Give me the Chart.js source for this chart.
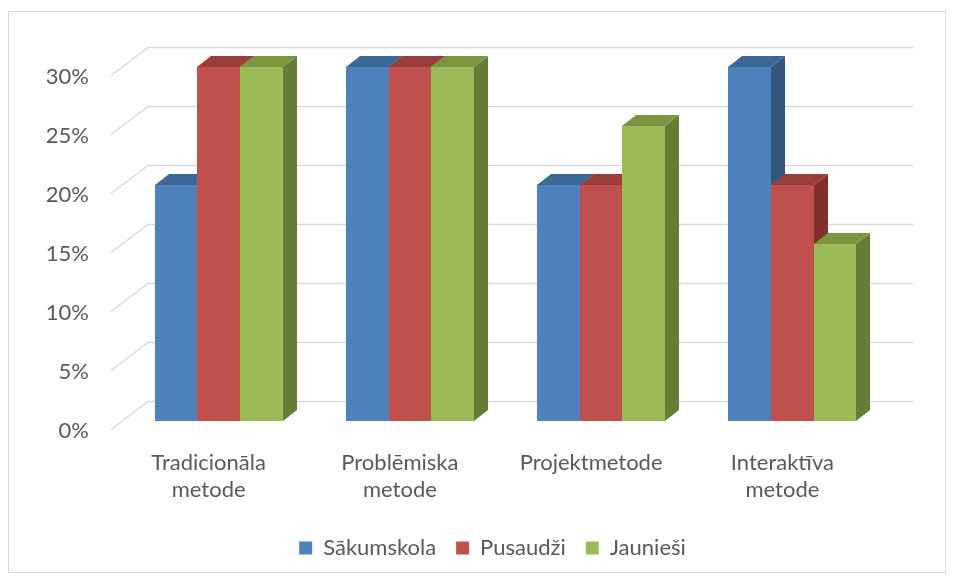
<!DOCTYPE html>
<html>
<head>
<meta charset="utf-8">
<script src="https://cdn.jsdelivr.net/npm/chart.js@4.4.0/dist/chart.umd.min.js"></script>
<style>
  html, body { margin: 0; padding: 0; background: #fff; }
  #wrap { position: relative; width: 953px; height: 580px; }
  #marco { position: absolute; left: 8px; top: 11px; width: 936px; height: 560px; border: 1px solid #d9d9d9; }
  canvas { position: absolute; left: 0; top: 0; }
</style>
</head>
<body>
<div id="wrap">
  <div id="marco"></div>
  <canvas id="grafico" width="953" height="580"></canvas>
</div>
<script>
// Datos del gráfico
const categorias = [['Tradicionāla', 'metode'], ['Problēmiska', 'metode'], 'Projektmetode', ['Interaktīva', 'metode']];
const series = ['Sākumskola', 'Pusaudži', 'Jaunieši'];
const sakumskola = [20, 30, 20, 30];
const pusaudzi = [30, 30, 20, 20];
const jaunesi = [30, 30, 25, 15];
const ejeYMax = 30;
const ejeYPaso = 5;

// Colores: frente, tapa, lado
const colores = [
  ['#4F81BD', '#3E6898', '#34577F'],
  ['#C0504D', '#9A3D3B', '#82302E'],
  ['#9BBB59', '#7B9541', '#667D35']
];

const TEXTO = '#595959';
const FUENTE = { family: 'Lato', size: 22, lineHeight: 1.25 };
const DX = 14, DY = -11;   // profundidad de las barras

// Plugin que dibuja la cuadrícula en perspectiva y las barras 3D
const barras3d = {
  id: 'barras3d',
  afterLayout(chart) {
    // que las etiquetas del eje Y no queden recortadas
    chart.scales.y.left = 0;
  },
  beforeDatasetsDraw(chart) {
    const ctx = chart.ctx;
    const area = chart.chartArea;
    const y = chart.scales.y;
    ctx.save();
    ctx.strokeStyle = '#d9d9d9';
    ctx.lineWidth = 1.5;
    y.ticks.forEach(t => {
      const py = y.getPixelForValue(t.value);
      ctx.beginPath();
      ctx.moveTo(area.left - 12, py + 8.5);
      ctx.lineTo(area.left + 25, py - 19.5);
      ctx.lineTo(area.right + 25, py - 19.5);
      ctx.stroke();
    });
    for (let i = 0; i < chart.data.labels.length; i++) {
      chart.data.datasets.forEach((ds, d) => {
        const bar = chart.getDatasetMeta(d).data[i];
        const izq = Math.round(bar.x - bar.width / 2);
        const der = Math.round(bar.x + bar.width / 2);
        const arriba = Math.round(bar.y);
        const base = Math.round(bar.base);
        // lado
        ctx.fillStyle = ds.colorLado;
        ctx.beginPath();
        ctx.moveTo(der, arriba);
        ctx.lineTo(der + DX, arriba + DY);
        ctx.lineTo(der + DX, base + DY);
        ctx.lineTo(der, base);
        ctx.closePath();
        ctx.fill();
        // tapa
        ctx.fillStyle = ds.colorTapa;
        ctx.beginPath();
        ctx.moveTo(izq, arriba);
        ctx.lineTo(izq + DX, arriba + DY);
        ctx.lineTo(der + DX, arriba + DY);
        ctx.lineTo(der, arriba);
        ctx.closePath();
        ctx.fill();
        // frente
        ctx.fillStyle = ds.backgroundColor;
        ctx.fillRect(izq, arriba, der - izq, base - arriba);
      });
    }
    ctx.restore();
    return false;
  }
};

const valores = [sakumskola, pusaudzi, jaunesi];

new Chart(document.getElementById('grafico').getContext('2d'), {
  type: 'bar',
  data: {
    labels: categorias,
    datasets: series.map((nombre, k) => ({
      label: nombre,
      data: valores[k],
      backgroundColor: colores[k][0],
      colorTapa: colores[k][1],
      colorLado: colores[k][2],
      borderWidth: 0,
      categoryPercentage: 0.668,
      barPercentage: 1
    }))
  },
  options: {
    responsive: false,
    animation: false,
    layout: { padding: { left: 97, right: 65, top: 67, bottom: 11 } },
    plugins: {
      legend: {
        position: 'bottom',
        labels: { boxWidth: 13, boxHeight: 13, padding: 20, color: TEXTO, font: FUENTE }
      },
      tooltip: { enabled: false }
    },
    scales: {
      x: {
        grid: { display: false, drawTicks: false },
        border: { display: false },
        ticks: { color: TEXTO, font: FUENTE, padding: 28, labelOffset: -10, maxRotation: 0, autoSkip: false },
        afterFit: s => { s.height = 96; }
      },
      y: {
        min: 0,
        max: ejeYMax,
        grid: { display: false, drawTicks: false },
        border: { display: false },
        ticks: { stepSize: ejeYPaso, padding: 34, labelOffset: 10, color: TEXTO, font: FUENTE, callback: v => v + '%' },
        afterFit: s => { s.width = 26; }
      }
    }
  },
  plugins: [barras3d]
});
</script>
</body>
</html>
